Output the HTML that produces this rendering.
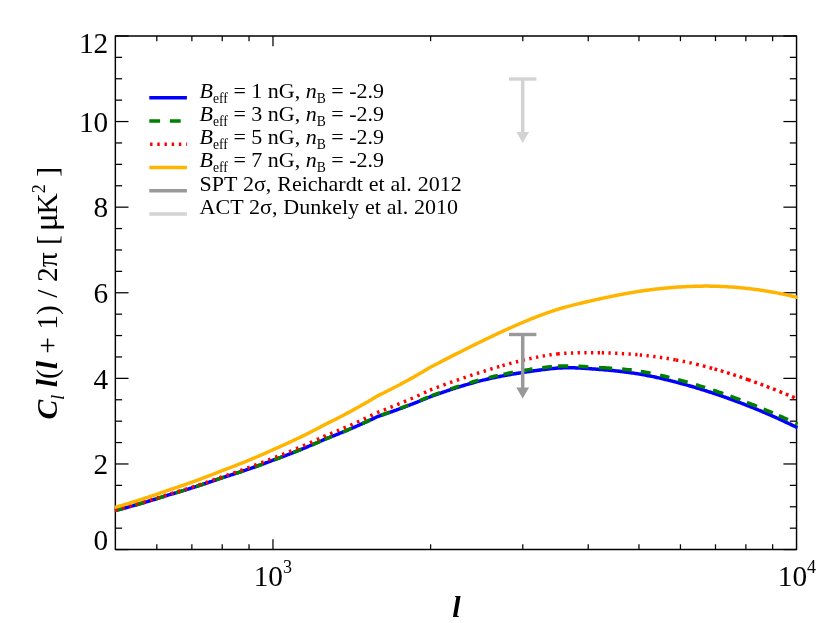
<!DOCTYPE html>
<html><head><meta charset="utf-8"><title>plot</title>
<style>html,body{margin:0;padding:0;background:#fff;}svg{display:block;will-change:transform;}</style>
</head><body>
<svg width="830" height="623" viewBox="0 0 830 623" font-family="'Liberation Serif', serif" fill="#000">
<rect x="0" y="0" width="830" height="623" fill="#fff"/>
<rect x="115.35" y="35.95" width="681.2" height="513.6" fill="none" stroke="#000" stroke-width="1.45" stroke-linejoin="round"/>
<g stroke="#000" stroke-width="1.25">
<line x1="115.35" y1="549.57" x2="128.5" y2="549.57"/>
<line x1="796.6" y1="549.57" x2="783.4" y2="549.57"/>
<line x1="115.35" y1="528.17" x2="122.1" y2="528.17"/>
<line x1="796.6" y1="528.17" x2="789.8" y2="528.17"/>
<line x1="115.35" y1="506.77" x2="122.1" y2="506.77"/>
<line x1="796.6" y1="506.77" x2="789.8" y2="506.77"/>
<line x1="115.35" y1="485.37" x2="122.1" y2="485.37"/>
<line x1="796.6" y1="485.37" x2="789.8" y2="485.37"/>
<line x1="115.35" y1="463.97" x2="128.5" y2="463.97"/>
<line x1="796.6" y1="463.97" x2="783.4" y2="463.97"/>
<line x1="115.35" y1="442.57" x2="122.1" y2="442.57"/>
<line x1="796.6" y1="442.57" x2="789.8" y2="442.57"/>
<line x1="115.35" y1="421.17" x2="122.1" y2="421.17"/>
<line x1="796.6" y1="421.17" x2="789.8" y2="421.17"/>
<line x1="115.35" y1="399.76" x2="122.1" y2="399.76"/>
<line x1="796.6" y1="399.76" x2="789.8" y2="399.76"/>
<line x1="115.35" y1="378.36" x2="128.5" y2="378.36"/>
<line x1="796.6" y1="378.36" x2="783.4" y2="378.36"/>
<line x1="115.35" y1="356.96" x2="122.1" y2="356.96"/>
<line x1="796.6" y1="356.96" x2="789.8" y2="356.96"/>
<line x1="115.35" y1="335.56" x2="122.1" y2="335.56"/>
<line x1="796.6" y1="335.56" x2="789.8" y2="335.56"/>
<line x1="115.35" y1="314.16" x2="122.1" y2="314.16"/>
<line x1="796.6" y1="314.16" x2="789.8" y2="314.16"/>
<line x1="115.35" y1="292.76" x2="128.5" y2="292.76"/>
<line x1="796.6" y1="292.76" x2="783.4" y2="292.76"/>
<line x1="115.35" y1="271.36" x2="122.1" y2="271.36"/>
<line x1="796.6" y1="271.36" x2="789.8" y2="271.36"/>
<line x1="115.35" y1="249.96" x2="122.1" y2="249.96"/>
<line x1="796.6" y1="249.96" x2="789.8" y2="249.96"/>
<line x1="115.35" y1="228.56" x2="122.1" y2="228.56"/>
<line x1="796.6" y1="228.56" x2="789.8" y2="228.56"/>
<line x1="115.35" y1="207.16" x2="128.5" y2="207.16"/>
<line x1="796.6" y1="207.16" x2="783.4" y2="207.16"/>
<line x1="115.35" y1="185.76" x2="122.1" y2="185.76"/>
<line x1="796.6" y1="185.76" x2="789.8" y2="185.76"/>
<line x1="115.35" y1="164.36" x2="122.1" y2="164.36"/>
<line x1="796.6" y1="164.36" x2="789.8" y2="164.36"/>
<line x1="115.35" y1="142.95" x2="122.1" y2="142.95"/>
<line x1="796.6" y1="142.95" x2="789.8" y2="142.95"/>
<line x1="115.35" y1="121.55" x2="128.5" y2="121.55"/>
<line x1="796.6" y1="121.55" x2="783.4" y2="121.55"/>
<line x1="115.35" y1="100.15" x2="122.1" y2="100.15"/>
<line x1="796.6" y1="100.15" x2="789.8" y2="100.15"/>
<line x1="115.35" y1="78.75" x2="122.1" y2="78.75"/>
<line x1="796.6" y1="78.75" x2="789.8" y2="78.75"/>
<line x1="115.35" y1="57.35" x2="122.1" y2="57.35"/>
<line x1="796.6" y1="57.35" x2="789.8" y2="57.35"/>
<line x1="115.35" y1="35.95" x2="128.5" y2="35.95"/>
<line x1="796.6" y1="35.95" x2="783.4" y2="35.95"/>
<line x1="156.81" y1="549.57" x2="156.81" y2="544.3"/>
<line x1="156.81" y1="35.95" x2="156.81" y2="41.2"/>
<line x1="191.87" y1="549.57" x2="191.87" y2="544.3"/>
<line x1="191.87" y1="35.95" x2="191.87" y2="41.2"/>
<line x1="222.23" y1="549.57" x2="222.23" y2="544.3"/>
<line x1="222.23" y1="35.95" x2="222.23" y2="41.2"/>
<line x1="249.02" y1="549.57" x2="249.02" y2="544.3"/>
<line x1="249.02" y1="35.95" x2="249.02" y2="41.2"/>
<line x1="272.98" y1="549.57" x2="272.98" y2="539.3"/>
<line x1="272.98" y1="35.95" x2="272.98" y2="46.2"/>
<line x1="430.60" y1="549.57" x2="430.60" y2="544.3"/>
<line x1="430.60" y1="35.95" x2="430.60" y2="41.2"/>
<line x1="522.81" y1="549.57" x2="522.81" y2="544.3"/>
<line x1="522.81" y1="35.95" x2="522.81" y2="41.2"/>
<line x1="588.23" y1="549.57" x2="588.23" y2="544.3"/>
<line x1="588.23" y1="35.95" x2="588.23" y2="41.2"/>
<line x1="638.97" y1="549.57" x2="638.97" y2="544.3"/>
<line x1="638.97" y1="35.95" x2="638.97" y2="41.2"/>
<line x1="680.43" y1="549.57" x2="680.43" y2="544.3"/>
<line x1="680.43" y1="35.95" x2="680.43" y2="41.2"/>
<line x1="715.49" y1="549.57" x2="715.49" y2="544.3"/>
<line x1="715.49" y1="35.95" x2="715.49" y2="41.2"/>
<line x1="745.86" y1="549.57" x2="745.86" y2="544.3"/>
<line x1="745.86" y1="35.95" x2="745.86" y2="41.2"/>
<line x1="772.64" y1="549.57" x2="772.64" y2="544.3"/>
<line x1="772.64" y1="35.95" x2="772.64" y2="41.2"/>
</g>
<g fill="none" stroke-width="3.5" stroke-linejoin="round">
<path d="M114.9,510.5 L115.3,510.5 L115.9,510.3 L116.9,510.1 L117.9,509.8 L118.9,509.6 L119.8,509.3 L120.8,509.1 L121.8,508.8 L122.8,508.5 L123.7,508.3 L124.7,508.0 L125.7,507.7 L126.7,507.5 L127.6,507.2 L128.6,506.9 L129.6,506.7 L130.6,506.4 L131.5,506.1 L132.5,505.9 L133.5,505.6 L134.5,505.3 L135.5,505.0 L136.4,504.8 L137.4,504.5 L138.4,504.2 L139.4,503.9 L140.3,503.6 L141.3,503.3 L142.3,503.1 L143.3,502.8 L144.2,502.5 L145.2,502.2 L146.2,501.9 L147.2,501.6 L148.1,501.3 L149.1,501.0 L150.1,500.7 L151.1,500.4 L152.1,500.1 L153.0,499.8 L154.0,499.5 L155.0,499.2 L156.0,498.9 L156.9,498.6 L157.9,498.3 L158.9,498.0 L159.9,497.7 L160.8,497.4 L161.8,497.1 L162.8,496.8 L163.8,496.5 L164.7,496.1 L165.7,495.8 L166.7,495.5 L167.7,495.2 L168.3,495.0 L168.7,494.9 L169.6,494.6 L170.6,494.3 L171.6,494.0 L172.6,493.8 L173.5,493.5 L174.5,493.2 L175.5,492.9 L176.5,492.6 L177.4,492.3 L178.4,492.0 L179.4,491.7 L180.4,491.4 L181.3,491.2 L182.3,490.9 L183.3,490.6 L184.3,490.3 L185.3,490.0 L186.2,489.7 L187.2,489.4 L188.2,489.1 L189.2,488.8 L190.1,488.4 L191.1,488.1 L192.1,487.8 L193.1,487.5 L194.0,487.2 L195.0,486.9 L196.0,486.6 L197.0,486.3 L197.9,485.9 L198.9,485.6 L199.9,485.3 L200.9,485.0 L201.9,484.7 L202.8,484.3 L203.8,484.0 L204.8,483.7 L205.8,483.4 L206.7,483.0 L207.7,482.7 L208.7,482.4 L209.7,482.0 L210.6,481.7 L211.6,481.4 L212.6,481.0 L213.6,480.7 L214.5,480.3 L215.5,480.0 L216.5,479.7 L217.5,479.3 L218.5,479.0 L219.4,478.6 L220.4,478.3 L220.6,478.2 L221.4,478.0 L222.4,477.7 L223.3,477.4 L224.3,477.1 L225.3,476.8 L226.3,476.5 L227.2,476.1 L228.2,475.8 L229.2,475.5 L230.2,475.2 L231.1,474.9 L232.1,474.6 L233.1,474.3 L234.1,474.0 L235.1,473.6 L236.0,473.3 L237.0,473.0 L238.0,472.7 L239.0,472.4 L239.9,472.0 L240.9,471.7 L241.9,471.4 L242.9,471.1 L243.8,470.7 L244.8,470.4 L245.8,470.1 L246.8,469.7 L247.7,469.4 L248.7,469.1 L249.7,468.7 L250.7,468.4 L251.7,468.0 L252.6,467.7 L253.6,467.3 L254.6,467.0 L255.6,466.7 L256.5,466.3 L257.5,466.0 L258.5,465.6 L259.5,465.2 L260.4,464.9 L261.4,464.5 L262.4,464.2 L263.4,463.8 L264.3,463.5 L265.3,463.1 L266.3,462.7 L267.3,462.4 L268.3,462.0 L269.2,461.6 L270.2,461.3 L271.2,460.9 L272.2,460.5 L273.0,460.2 L273.1,460.1 L274.1,459.8 L275.1,459.4 L276.1,459.1 L277.0,458.7 L278.0,458.4 L279.0,458.0 L280.0,457.6 L280.9,457.3 L281.9,456.9 L282.9,456.5 L283.9,456.2 L284.9,455.8 L285.8,455.4 L286.8,455.1 L287.8,454.7 L288.8,454.3 L289.7,453.9 L290.7,453.6 L291.7,453.2 L292.7,452.8 L293.6,452.4 L294.6,452.0 L295.6,451.6 L296.6,451.2 L297.5,450.9 L298.5,450.5 L299.5,450.1 L300.5,449.7 L301.5,449.3 L302.4,448.9 L303.4,448.5 L304.4,448.1 L305.4,447.7 L306.3,447.3 L307.3,446.9 L308.3,446.4 L309.3,446.0 L310.2,445.6 L311.2,445.2 L312.2,444.8 L313.2,444.4 L314.1,443.9 L315.1,443.5 L316.1,443.1 L317.1,442.7 L318.1,442.2 L319.0,441.8 L320.0,441.4 L321.0,441.0 L322.0,440.5 L322.9,440.1 L323.9,439.6 L324.9,439.2 L325.3,439.0 L325.9,438.8 L326.8,438.4 L327.8,438.0 L328.8,437.7 L329.8,437.3 L330.7,436.9 L331.7,436.5 L332.7,436.1 L333.7,435.8 L334.7,435.4 L335.6,435.0 L336.6,434.6 L337.6,434.2 L338.6,433.8 L339.5,433.4 L340.5,433.0 L341.5,432.6 L342.5,432.2 L343.4,431.8 L344.4,431.4 L345.4,431.0 L346.4,430.6 L347.3,430.2 L348.3,429.8 L349.3,429.3 L350.3,428.9 L351.3,428.5 L352.2,428.1 L353.2,427.7 L354.2,427.2 L355.2,426.8 L356.1,426.4 L357.1,426.0 L358.1,425.5 L359.1,425.1 L360.0,424.7 L361.0,424.2 L362.0,423.8 L363.0,423.4 L363.9,422.9 L364.9,422.5 L365.9,422.0 L366.9,421.6 L367.9,421.1 L368.8,420.7 L369.8,420.2 L370.8,419.8 L371.8,419.3 L372.7,418.9 L373.7,418.4 L374.7,417.9 L375.7,417.5 L376.6,417.0 L377.6,416.5 L377.7,416.5 L378.6,416.2 L379.6,415.9 L380.5,415.5 L381.5,415.2 L382.5,414.9 L383.5,414.5 L384.5,414.2 L385.4,413.9 L386.4,413.5 L387.4,413.2 L388.4,412.8 L389.3,412.5 L390.3,412.2 L391.3,411.8 L392.3,411.5 L393.2,411.1 L394.2,410.8 L395.2,410.4 L396.2,410.1 L397.1,409.7 L398.1,409.4 L399.1,409.0 L400.1,408.6 L401.1,408.3 L402.0,407.9 L403.0,407.5 L404.0,407.2 L405.0,406.8 L405.9,406.4 L406.9,406.1 L407.9,405.7 L408.9,405.3 L409.8,404.9 L410.8,404.6 L411.8,404.2 L412.8,403.8 L413.7,403.4 L414.7,403.0 L415.7,402.7 L416.7,402.3 L417.7,401.9 L418.6,401.5 L419.6,401.1 L420.6,400.7 L421.6,400.3 L422.5,399.9 L423.5,399.5 L424.5,399.1 L425.5,398.7 L426.4,398.3 L427.4,397.9 L428.4,397.5 L429.4,397.1 L430.1,396.8 L430.3,396.7 L431.3,396.3 L432.3,396.0 L433.3,395.6 L434.3,395.3 L435.2,394.9 L436.2,394.6 L437.2,394.2 L438.2,393.9 L439.1,393.5 L440.1,393.2 L441.1,392.9 L442.1,392.5 L443.0,392.2 L444.0,391.9 L445.0,391.5 L446.0,391.2 L446.9,390.9 L447.9,390.5 L448.9,390.2 L449.9,389.9 L450.9,389.5 L451.8,389.2 L452.8,388.9 L453.8,388.6 L454.8,388.3 L455.7,387.9 L456.7,387.6 L457.7,387.3 L458.7,387.0 L459.6,386.7 L460.6,386.4 L461.6,386.1 L462.6,385.8 L463.5,385.5 L464.5,385.2 L465.5,384.9 L466.5,384.6 L467.5,384.4 L468.4,384.1 L469.4,383.8 L470.4,383.5 L471.4,383.2 L472.3,383.0 L473.3,382.7 L474.3,382.4 L475.3,382.2 L476.2,381.9 L477.2,381.6 L478.2,381.4 L479.2,381.1 L480.1,380.9 L481.1,380.6 L482.1,380.4 L482.4,380.3 L483.1,380.1 L484.1,379.9 L485.0,379.7 L486.0,379.4 L487.0,379.2 L488.0,379.0 L488.9,378.8 L489.9,378.5 L490.9,378.3 L491.9,378.1 L492.8,377.9 L493.8,377.7 L494.8,377.5 L495.8,377.3 L496.7,377.1 L497.7,376.9 L498.7,376.7 L499.7,376.5 L500.7,376.3 L501.6,376.1 L502.6,375.9 L503.6,375.7 L504.6,375.5 L505.5,375.4 L506.5,375.2 L507.5,375.0 L508.5,374.8 L509.4,374.7 L510.4,374.5 L511.4,374.3 L512.4,374.1 L513.3,374.0 L514.3,373.8 L515.3,373.7 L516.3,373.5 L517.3,373.3 L518.2,373.2 L519.2,373.0 L520.2,372.9 L521.2,372.7 L522.1,372.6 L523.1,372.4 L524.1,372.3 L525.1,372.1 L526.0,372.0 L527.0,371.8 L528.0,371.7 L529.0,371.5 L529.9,371.4 L530.9,371.3 L531.9,371.1 L532.9,371.0 L533.9,370.8 L534.8,370.7 L534.8,370.7 L535.8,370.6 L536.8,370.4 L537.8,370.3 L538.7,370.2 L539.7,370.0 L540.7,369.9 L541.7,369.8 L542.6,369.6 L543.6,369.5 L544.6,369.4 L545.6,369.3 L546.5,369.2 L547.5,369.0 L548.5,368.9 L549.5,368.8 L550.5,368.7 L551.4,368.6 L552.4,368.5 L553.4,368.4 L554.4,368.4 L555.3,368.3 L556.3,368.2 L557.3,368.1 L558.3,368.1 L559.2,368.0 L560.2,367.9 L561.2,367.9 L562.2,367.9 L563.1,367.8 L564.1,367.8 L565.1,367.8 L566.1,367.7 L567.1,367.7 L568.0,367.7 L569.0,367.7 L570.0,367.7 L571.0,367.7 L571.9,367.7 L572.9,367.8 L573.9,367.8 L574.9,367.8 L575.8,367.9 L576.8,367.9 L577.8,367.9 L578.8,368.0 L579.7,368.0 L580.7,368.1 L581.7,368.2 L582.7,368.2 L583.7,368.3 L584.6,368.3 L585.6,368.4 L586.6,368.5 L587.2,368.5 L587.6,368.5 L588.5,368.6 L589.5,368.7 L590.5,368.7 L591.5,368.8 L592.4,368.9 L593.4,368.9 L594.4,369.0 L595.4,369.1 L596.3,369.2 L597.3,369.2 L598.3,369.3 L599.3,369.4 L600.3,369.5 L601.2,369.5 L602.2,369.6 L603.2,369.7 L604.2,369.8 L605.1,369.9 L606.1,370.0 L607.1,370.0 L608.1,370.1 L609.0,370.2 L610.0,370.3 L611.0,370.4 L612.0,370.5 L612.9,370.6 L613.9,370.7 L614.9,370.8 L615.9,370.9 L616.9,371.0 L617.8,371.1 L618.8,371.2 L619.8,371.3 L620.8,371.5 L621.7,371.6 L622.7,371.7 L623.7,371.8 L624.7,371.9 L625.6,372.1 L626.6,372.2 L627.6,372.3 L628.6,372.4 L629.5,372.6 L630.5,372.7 L631.5,372.9 L632.5,373.0 L633.5,373.1 L634.4,373.3 L635.4,373.4 L636.4,373.6 L637.4,373.7 L638.3,373.9 L639.3,374.1 L639.5,374.1 L640.3,374.2 L641.3,374.4 L642.2,374.6 L643.2,374.7 L644.2,374.9 L645.2,375.1 L646.1,375.3 L647.1,375.5 L648.1,375.7 L649.1,375.8 L650.1,376.0 L651.0,376.2 L652.0,376.4 L653.0,376.6 L654.0,376.8 L654.9,377.0 L655.9,377.2 L656.9,377.5 L657.9,377.7 L658.8,377.9 L659.8,378.1 L660.8,378.3 L661.8,378.6 L662.7,378.8 L663.7,379.0 L664.7,379.2 L665.7,379.5 L666.7,379.7 L667.6,379.9 L668.6,380.2 L669.6,380.4 L670.6,380.7 L671.5,380.9 L672.5,381.2 L673.5,381.4 L674.5,381.7 L675.4,381.9 L676.4,382.2 L677.4,382.4 L678.4,382.7 L679.3,383.0 L680.3,383.2 L681.3,383.5 L682.3,383.8 L683.3,384.0 L684.2,384.3 L685.2,384.6 L686.2,384.9 L687.2,385.1 L688.1,385.4 L689.1,385.7 L690.1,386.0 L691.1,386.3 L691.9,386.5 L692.0,386.5 L693.0,386.8 L694.0,387.1 L695.0,387.4 L695.9,387.7 L696.9,388.0 L697.9,388.3 L698.9,388.6 L699.9,388.9 L700.8,389.2 L701.8,389.5 L702.8,389.8 L703.8,390.1 L704.7,390.4 L705.7,390.7 L706.7,391.0 L707.7,391.4 L708.6,391.7 L709.6,392.0 L710.6,392.3 L711.6,392.6 L712.5,392.9 L713.5,393.3 L714.5,393.6 L715.5,393.9 L716.5,394.2 L717.4,394.6 L718.4,394.9 L719.4,395.2 L720.4,395.6 L721.3,395.9 L722.3,396.2 L723.3,396.6 L724.3,396.9 L725.2,397.3 L726.2,397.6 L727.2,398.0 L728.2,398.3 L729.1,398.7 L730.1,399.0 L731.1,399.4 L732.1,399.7 L733.1,400.1 L734.0,400.4 L735.0,400.8 L736.0,401.2 L737.0,401.5 L737.9,401.9 L738.9,402.3 L739.9,402.6 L740.9,403.0 L741.8,403.4 L742.8,403.8 L743.8,404.1 L744.2,404.3 L744.8,404.5 L745.7,404.9 L746.7,405.3 L747.7,405.7 L748.7,406.0 L749.7,406.4 L750.6,406.8 L751.6,407.2 L752.6,407.6 L753.6,408.0 L754.5,408.4 L755.5,408.8 L756.5,409.2 L757.5,409.6 L758.4,410.0 L759.4,410.4 L760.4,410.8 L761.4,411.2 L762.3,411.6 L763.3,412.1 L764.3,412.5 L765.3,412.9 L766.3,413.3 L767.2,413.7 L768.2,414.2 L769.2,414.6 L770.2,415.0 L771.1,415.4 L772.1,415.9 L773.1,416.3 L774.1,416.7 L775.0,417.2 L776.0,417.6 L777.0,418.0 L778.0,418.5 L778.9,418.9 L779.9,419.4 L780.9,419.8 L781.9,420.3 L782.9,420.7 L783.8,421.2 L784.8,421.6 L785.8,422.1 L786.8,422.6 L787.7,423.0 L788.7,423.5 L789.7,423.9 L790.7,424.4 L791.6,424.9 L792.6,425.4 L793.6,425.8 L794.6,426.3 L795.5,426.8 L796.5,427.3 L796.6,427.3 L797.5,427.7" stroke="#0000ff"/>
<path d="M114.95,510.50 L116.92,510.09 L118.90,509.57 L120.87,509.05 L122.84,508.52 M135.18,505.11 L137.02,504.58 L138.87,504.05 L140.71,503.52 L142.56,502.98 L144.40,502.44 M155.72,499.00 L157.43,498.47 L159.14,497.93 L160.84,497.39 L162.55,496.85 L164.26,496.30 M175.59,492.87 L177.43,492.33 L179.27,491.78 L181.11,491.23 L182.95,490.67 L184.79,490.11 M195.94,486.60 L197.64,486.05 L199.34,485.50 L201.04,484.94 L202.74,484.37 L204.44,483.81 M215.78,479.92 L217.46,479.33 L219.14,478.73 L220.82,478.14 L222.50,477.62 L224.18,477.10 M235.44,473.52 L237.44,472.86 L239.44,472.20 L241.44,471.53 L243.44,470.86 M254.78,466.93 L256.45,466.34 L258.11,465.74 L259.77,465.14 L261.43,464.53 L263.09,463.92 M274.00,459.83 L275.67,459.22 L277.35,458.61 L279.03,457.99 L280.71,457.37 L282.38,456.74 M293.34,452.53 L295.00,451.87 L296.66,451.21 L298.32,450.55 L299.98,449.88 L301.64,449.20 M312.09,444.84 L313.81,444.10 L315.53,443.35 L317.25,442.60 L318.97,441.85 L320.69,441.09 M324.72,439.28 L326.58,438.52 L328.44,437.81 L330.30,437.08 L332.15,436.35 M342.87,432.00 L344.64,431.26 L346.40,430.52 L348.17,429.77 L349.94,429.01 L351.70,428.25 M362.12,423.62 L363.77,422.87 L365.41,422.12 L367.06,421.35 L368.71,420.59 L370.35,419.81 M381.27,415.08 L382.98,414.49 L384.68,413.90 L386.39,413.30 L388.10,412.69 L389.81,412.08 M400.21,408.27 L401.84,407.66 L403.47,407.04 L405.10,406.42 L406.73,405.79 L408.36,405.16 M419.96,400.53 L421.61,399.86 L423.26,399.17 L424.91,398.48 L426.56,397.79 L428.21,397.09 M431.31,395.84 L433.01,395.21 L434.71,394.59 L436.41,393.97 L438.11,393.35 L439.81,392.74 M450.37,389.03 L452.15,388.42 L453.93,387.82 L455.70,387.23 L457.48,386.64 L459.26,386.07 M469.60,382.85 L471.39,382.32 L473.18,381.80 L474.97,381.28 L476.75,380.78 L478.54,380.29 M488.82,377.63 L490.64,377.19 L492.46,376.75 L494.28,376.32 L496.10,375.90 L497.92,375.48 M503.57,374.24 L505.45,373.84 L507.33,373.45 L509.21,373.07 L511.09,372.70 L512.97,372.33 M522.89,370.54 L524.80,370.23 L526.71,369.92 L528.63,369.61 L530.54,369.32 L532.45,369.04 M542.22,367.71 L544.16,367.47 L546.11,367.24 L548.06,367.03 L550.00,366.83 L551.95,366.65 M557.90,366.21 L559.63,366.12 L561.37,366.04 L563.10,365.99 L564.83,365.95 L566.56,365.93 L568.29,365.93 M578.49,366.25 L580.45,366.36 L582.41,366.49 L584.37,366.61 L586.33,366.74 L588.28,366.88 M599.00,367.52 L600.88,367.63 L602.77,367.73 L604.65,367.84 L606.53,367.95 L608.42,368.06 L610.30,368.18 L612.18,368.30 M622.16,369.07 L624.08,369.25 L626.01,369.44 L627.93,369.64 L629.86,369.86 L631.78,370.09 M640.79,371.41 L642.74,371.75 L644.70,372.09 L646.65,372.45 L648.61,372.82 L650.56,373.20 M660.08,375.21 L661.94,375.63 L663.80,376.05 L665.66,376.49 L667.52,376.94 L669.38,377.39 M678.05,379.62 L679.96,380.14 L681.88,380.66 L683.79,381.19 L685.70,381.72 L687.62,382.27 M695.90,384.70 L697.74,385.25 L699.57,385.81 L701.40,386.38 L703.24,386.95 L705.07,387.53 M713.05,390.11 L714.74,390.67 L716.44,391.24 L718.13,391.81 L719.83,392.39 L721.53,392.97 L723.22,393.56 M730.39,396.11 L732.39,396.84 L734.39,397.57 L736.38,398.31 L738.38,399.06 L740.38,399.82 M746.94,402.35 L748.60,403.01 L750.27,403.66 L751.94,404.33 L753.61,404.99 L755.27,405.66 L756.94,406.34 M763.57,409.05 L765.42,409.82 L767.26,410.60 L769.11,411.38 L770.96,412.16 L772.81,412.95 M778.80,415.56 L780.64,416.38 L782.47,417.19 L784.30,418.02 L786.14,418.84 L787.97,419.68 M795.45,423.16 L796.47,423.64 L797.50,424.13" stroke="#008000"/>
<path d="M114.95,510.00 L116.32,509.75 L117.70,509.39 M122.35,508.15 L123.50,507.84 L124.65,507.53 M129.30,506.26 L130.45,505.94 L131.60,505.62 M136.25,504.30 L137.40,503.97 L138.55,503.64 M143.20,502.29 L144.35,501.95 L145.50,501.61 M150.15,500.21 L151.30,499.86 L152.45,499.51 M157.10,498.07 L158.25,497.71 L159.40,497.35 M164.05,495.87 L165.20,495.50 L166.35,495.12 M171.00,493.69 L172.15,493.35 L173.30,493.01 M177.95,491.61 L179.10,491.25 L180.25,490.90 M184.90,489.45 L186.05,489.09 L187.20,488.73 M191.85,487.24 L193.00,486.86 L194.15,486.49 M198.80,484.95 L199.95,484.56 L201.10,484.18 M205.75,482.59 L206.90,482.19 L208.05,481.79 M212.70,480.16 L213.85,479.75 L215.00,479.34 M219.65,477.65 L220.80,477.24 L221.95,476.86 M226.60,475.32 L227.75,474.94 L228.90,474.55 M233.55,472.96 L234.70,472.56 L235.85,472.16 M240.50,470.52 L241.65,470.11 L242.80,469.70 M247.45,468.01 L248.60,467.59 L249.75,467.16 M254.40,465.42 L255.55,464.99 L256.70,464.55 M261.35,462.75 L262.50,462.30 L263.65,461.85 M268.30,460.00 L269.45,459.54 L270.60,459.07 M275.25,457.23 L276.40,456.79 L277.55,456.34 M282.20,454.52 L283.35,454.06 L284.50,453.60 M289.15,451.72 L290.30,451.25 L291.45,450.78 M296.10,448.84 L297.25,448.35 L298.40,447.87 M303.05,445.87 L304.20,445.37 L305.35,444.86 M310.00,442.80 L311.15,442.29 L312.30,441.77 M316.95,439.64 L318.10,439.11 L319.25,438.58 M323.50,436.58 L324.65,436.03 L325.80,435.52 M330.20,433.76 L331.35,433.29 L332.50,432.82 M336.90,431.01 L338.05,430.53 L339.20,430.04 M343.60,428.18 L344.75,427.68 L345.90,427.18 M350.30,425.26 L351.45,424.75 L352.60,424.24 M357.00,422.26 L358.15,421.73 L359.30,421.21 M363.70,419.16 L364.85,418.62 L366.00,418.08 M370.40,415.98 L371.55,415.42 L372.70,414.86 M377.10,412.70 L378.25,412.19 L379.40,411.75 M383.80,410.06 L384.95,409.61 L386.10,409.16 M390.50,407.41 L391.65,406.95 L392.80,406.49 M397.20,404.69 L398.35,404.21 L399.50,403.74 M403.90,401.88 L405.05,401.39 L406.20,400.90 M410.60,398.99 L411.75,398.49 L412.90,397.98 M417.30,396.02 L418.45,395.50 L419.60,394.98 M424.00,392.95 L425.15,392.42 L426.30,391.88 M430.00,390.13 L431.15,389.68 L432.30,389.24 M436.70,387.56 L437.85,387.13 L439.00,386.70 M443.40,385.07 L444.55,384.64 L445.70,384.22 M450.10,382.63 L451.25,382.22 L452.40,381.81 M456.80,380.25 L457.95,379.85 L459.10,379.45 M463.50,377.94 L464.65,377.54 L465.80,377.15 M470.20,375.68 L471.35,375.29 L472.50,374.91 M476.90,373.47 L478.05,373.10 L479.20,372.73 M483.60,371.33 L484.75,370.97 L485.90,370.60 M490.30,369.24 L491.45,368.89 L492.60,368.54 M497.00,367.22 L498.15,366.88 L499.30,366.54 M502.50,365.62 L503.65,365.29 L504.80,364.96 M509.20,363.75 L510.35,363.43 L511.50,363.13 M515.90,361.97 L517.05,361.68 L518.20,361.39 M522.60,360.31 L523.75,360.04 L524.90,359.77 M529.30,358.77 L530.45,358.52 L531.60,358.27 M536.00,357.36 L537.15,357.13 L538.30,356.90 M542.70,356.09 L543.85,355.89 L545.00,355.70 M549.40,355.00 L550.55,354.83 L551.70,354.67 M556.10,354.12 L557.25,353.99 L558.40,353.87 M557.50,353.96 L558.65,353.84 L559.80,353.73 M564.20,353.36 L565.35,353.29 L566.50,353.21 M570.90,352.99 L572.05,352.95 L573.20,352.91 M577.60,352.79 L578.75,352.77 L579.90,352.75 M584.30,352.71 L585.45,352.70 L586.60,352.70 M591.00,352.71 L592.15,352.71 L593.30,352.72 M597.70,352.76 L598.85,352.78 L600.00,352.80 M601.70,352.83 L602.85,352.86 L604.00,352.88 M608.40,353.00 L609.55,353.04 L610.70,353.08 M615.10,353.25 L616.25,353.30 L617.40,353.35 M621.80,353.58 L622.95,353.64 L624.10,353.71 M628.50,354.00 L629.65,354.08 L630.80,354.17 M635.20,354.52 L636.35,354.61 L637.50,354.72 M639.80,354.93 L640.95,355.04 L642.10,355.15 M646.50,355.62 L647.65,355.75 L648.80,355.88 M653.20,356.41 L654.35,356.56 L655.50,356.71 M659.90,357.32 L661.05,357.49 L662.20,357.66 M666.60,358.33 L667.75,358.52 L668.90,358.71 M673.30,359.46 L674.45,359.67 L675.60,359.88 M676.00,359.95 L677.15,360.16 L678.30,360.38 M682.70,361.24 L683.85,361.48 L685.00,361.71 M689.40,362.65 L690.55,362.90 L691.70,363.16 M696.10,364.18 L697.45,364.50 L698.80,364.83 M702.80,365.82 L704.15,366.17 L705.50,366.51 M709.50,367.58 L710.85,367.94 L712.20,368.31 M714.50,368.96 L715.85,369.34 L717.20,369.73 M720.75,370.76 L722.10,371.17 L723.45,371.57 M727.00,372.66 L728.35,373.08 L729.70,373.50 M733.25,374.63 L734.60,375.07 L735.95,375.51 M739.50,376.69 L740.85,377.14 L742.20,377.60 M745.75,378.82 L747.10,379.29 L748.45,379.77 M748.00,379.61 L749.35,380.08 L750.70,380.56 M754.25,381.84 L755.60,382.33 L756.95,382.82 M760.50,384.13 L761.85,384.64 L763.20,385.14 M766.75,386.49 L768.10,387.01 L769.45,387.53 M773.00,388.91 L774.35,389.44 L775.70,389.97 M779.50,391.48 L780.85,392.02 L782.20,392.56 M785.75,394.00 L787.10,394.56 L788.45,395.11 M792.00,396.58 L793.35,397.14 L794.70,397.70" stroke="#ff0000"/>
<path d="M114.9,507.3 L115.3,507.3 L115.9,507.1 L116.9,506.9 L117.9,506.6 L118.9,506.3 L119.8,506.0 L120.8,505.7 L121.8,505.4 L122.8,505.1 L123.7,504.8 L124.7,504.6 L125.7,504.3 L126.7,504.0 L127.6,503.7 L128.6,503.4 L129.6,503.1 L130.6,502.8 L131.5,502.5 L132.5,502.2 L133.5,501.9 L134.5,501.6 L135.5,501.3 L136.4,501.0 L137.4,500.6 L138.4,500.3 L139.4,500.0 L140.3,499.7 L141.3,499.4 L142.3,499.1 L143.3,498.8 L144.2,498.5 L145.2,498.1 L146.2,497.8 L147.2,497.5 L148.1,497.2 L149.1,496.8 L150.1,496.5 L151.1,496.2 L152.1,495.9 L153.0,495.5 L154.0,495.2 L155.0,494.9 L156.0,494.5 L156.9,494.2 L157.9,493.9 L158.9,493.5 L159.9,493.2 L160.8,492.8 L161.8,492.5 L162.8,492.2 L163.8,491.8 L164.7,491.5 L165.7,491.1 L166.7,490.8 L167.7,490.4 L168.3,490.2 L168.7,490.1 L169.6,489.8 L170.6,489.4 L171.6,489.1 L172.6,488.8 L173.5,488.5 L174.5,488.2 L175.5,487.8 L176.5,487.5 L177.4,487.2 L178.4,486.8 L179.4,486.5 L180.4,486.2 L181.3,485.8 L182.3,485.5 L183.3,485.2 L184.3,484.8 L185.3,484.5 L186.2,484.2 L187.2,483.8 L188.2,483.5 L189.2,483.1 L190.1,482.8 L191.1,482.4 L192.1,482.1 L193.1,481.7 L194.0,481.4 L195.0,481.0 L196.0,480.7 L197.0,480.3 L197.9,480.0 L198.9,479.6 L199.9,479.2 L200.9,478.9 L201.9,478.5 L202.8,478.1 L203.8,477.8 L204.8,477.4 L205.8,477.0 L206.7,476.7 L207.7,476.3 L208.7,475.9 L209.7,475.5 L210.6,475.2 L211.6,474.8 L212.6,474.4 L213.6,474.0 L214.5,473.6 L215.5,473.2 L216.5,472.9 L217.5,472.5 L218.5,472.1 L219.4,471.7 L220.4,471.3 L220.6,471.2 L221.4,470.9 L222.4,470.6 L223.3,470.2 L224.3,469.8 L225.3,469.5 L226.3,469.1 L227.2,468.7 L228.2,468.4 L229.2,468.0 L230.2,467.6 L231.1,467.3 L232.1,466.9 L233.1,466.5 L234.1,466.1 L235.1,465.8 L236.0,465.4 L237.0,465.0 L238.0,464.6 L239.0,464.2 L239.9,463.8 L240.9,463.4 L241.9,463.1 L242.9,462.7 L243.8,462.3 L244.8,461.9 L245.8,461.5 L246.8,461.1 L247.7,460.7 L248.7,460.3 L249.7,459.9 L250.7,459.5 L251.7,459.1 L252.6,458.6 L253.6,458.2 L254.6,457.8 L255.6,457.4 L256.5,457.0 L257.5,456.6 L258.5,456.2 L259.5,455.7 L260.4,455.3 L261.4,454.9 L262.4,454.5 L263.4,454.0 L264.3,453.6 L265.3,453.2 L266.3,452.7 L267.3,452.3 L268.3,451.8 L269.2,451.4 L270.2,451.0 L271.2,450.5 L272.2,450.1 L273.0,449.7 L273.1,449.6 L274.1,449.2 L275.1,448.8 L276.1,448.4 L277.0,447.9 L278.0,447.5 L279.0,447.1 L280.0,446.6 L280.9,446.2 L281.9,445.8 L282.9,445.3 L283.9,444.9 L284.9,444.4 L285.8,444.0 L286.8,443.5 L287.8,443.1 L288.8,442.6 L289.7,442.2 L290.7,441.7 L291.7,441.3 L292.7,440.8 L293.6,440.4 L294.6,439.9 L295.6,439.4 L296.6,439.0 L297.5,438.5 L298.5,438.0 L299.5,437.6 L300.5,437.1 L301.5,436.6 L302.4,436.1 L303.4,435.7 L304.4,435.2 L305.4,434.7 L306.3,434.2 L307.3,433.7 L308.3,433.2 L309.3,432.7 L310.2,432.2 L311.2,431.7 L312.2,431.2 L313.2,430.7 L314.1,430.2 L315.1,429.7 L316.1,429.2 L317.1,428.7 L318.1,428.2 L319.0,427.7 L320.0,427.2 L321.0,426.6 L322.0,426.1 L322.9,425.6 L323.9,425.1 L324.9,424.5 L325.3,424.3 L325.9,424.0 L326.8,423.6 L327.8,423.1 L328.8,422.6 L329.8,422.1 L330.7,421.6 L331.7,421.2 L332.7,420.7 L333.7,420.2 L334.7,419.7 L335.6,419.2 L336.6,418.7 L337.6,418.2 L338.6,417.7 L339.5,417.2 L340.5,416.7 L341.5,416.2 L342.5,415.7 L343.4,415.2 L344.4,414.7 L345.4,414.2 L346.4,413.6 L347.3,413.1 L348.3,412.6 L349.3,412.1 L350.3,411.5 L351.3,411.0 L352.2,410.5 L353.2,409.9 L354.2,409.4 L355.2,408.9 L356.1,408.3 L357.1,407.8 L358.1,407.2 L359.1,406.7 L360.0,406.2 L361.0,405.6 L362.0,405.0 L363.0,404.5 L363.9,403.9 L364.9,403.4 L365.9,402.8 L366.9,402.2 L367.9,401.7 L368.8,401.1 L369.8,400.5 L370.8,400.0 L371.8,399.4 L372.7,398.8 L373.7,398.2 L374.7,397.6 L375.7,397.0 L376.6,396.4 L377.6,395.8 L377.7,395.8 L378.6,395.4 L379.6,394.9 L380.5,394.4 L381.5,393.9 L382.5,393.5 L383.5,393.0 L384.5,392.5 L385.4,392.0 L386.4,391.5 L387.4,391.0 L388.4,390.5 L389.3,390.0 L390.3,389.5 L391.3,389.0 L392.3,388.5 L393.2,388.0 L394.2,387.5 L395.2,387.0 L396.2,386.5 L397.1,386.0 L398.1,385.5 L399.1,385.0 L400.1,384.5 L401.1,383.9 L402.0,383.4 L403.0,382.9 L404.0,382.4 L405.0,381.8 L405.9,381.3 L406.9,380.8 L407.9,380.2 L408.9,379.7 L409.8,379.1 L410.8,378.6 L411.8,378.1 L412.8,377.5 L413.7,377.0 L414.7,376.4 L415.7,375.9 L416.7,375.3 L417.7,374.7 L418.6,374.2 L419.6,373.6 L420.6,373.0 L421.6,372.5 L422.5,371.9 L423.5,371.3 L424.5,370.7 L425.5,370.2 L426.4,369.6 L427.4,369.0 L428.4,368.4 L429.4,367.8 L430.1,367.4 L430.3,367.3 L431.3,366.7 L432.3,366.2 L433.3,365.7 L434.3,365.2 L435.2,364.7 L436.2,364.2 L437.2,363.7 L438.2,363.2 L439.1,362.7 L440.1,362.2 L441.1,361.6 L442.1,361.1 L443.0,360.6 L444.0,360.1 L445.0,359.6 L446.0,359.1 L446.9,358.6 L447.9,358.1 L448.9,357.6 L449.9,357.1 L450.9,356.6 L451.8,356.1 L452.8,355.6 L453.8,355.1 L454.8,354.6 L455.7,354.1 L456.7,353.6 L457.7,353.2 L458.7,352.7 L459.6,352.2 L460.6,351.7 L461.6,351.2 L462.6,350.7 L463.5,350.2 L464.5,349.7 L465.5,349.2 L466.5,348.7 L467.5,348.3 L468.4,347.8 L469.4,347.3 L470.4,346.8 L471.4,346.3 L472.3,345.8 L473.3,345.4 L474.3,344.9 L475.3,344.4 L476.2,343.9 L477.2,343.4 L478.2,343.0 L479.2,342.5 L480.1,342.0 L481.1,341.5 L482.1,341.1 L482.4,340.9 L483.1,340.6 L484.1,340.1 L485.0,339.6 L486.0,339.2 L487.0,338.7 L488.0,338.2 L488.9,337.8 L489.9,337.3 L490.9,336.8 L491.9,336.4 L492.8,335.9 L493.8,335.4 L494.8,335.0 L495.8,334.5 L496.7,334.1 L497.7,333.6 L498.7,333.1 L499.7,332.7 L500.7,332.2 L501.6,331.8 L502.6,331.3 L503.6,330.9 L504.6,330.4 L505.5,330.0 L506.5,329.5 L507.5,329.1 L508.5,328.7 L509.4,328.2 L510.4,327.8 L511.4,327.3 L512.4,326.9 L513.3,326.5 L514.3,326.0 L515.3,325.6 L516.3,325.2 L517.3,324.8 L518.2,324.3 L519.2,323.9 L520.2,323.5 L521.2,323.1 L522.1,322.7 L523.1,322.3 L524.1,321.8 L525.1,321.4 L526.0,321.0 L527.0,320.6 L528.0,320.2 L529.0,319.8 L529.9,319.4 L530.9,319.0 L531.9,318.6 L532.9,318.3 L533.9,317.9 L534.8,317.5 L534.8,317.5 L535.8,317.1 L536.8,316.7 L537.8,316.3 L538.7,316.0 L539.7,315.6 L540.7,315.2 L541.7,314.9 L542.6,314.5 L543.6,314.2 L544.6,313.8 L545.6,313.4 L546.5,313.1 L547.5,312.7 L548.5,312.4 L549.5,312.1 L550.5,311.7 L551.4,311.4 L552.4,311.1 L553.4,310.7 L554.4,310.4 L555.3,310.1 L556.3,309.8 L557.3,309.5 L558.3,309.2 L559.2,308.9 L560.2,308.6 L561.2,308.3 L562.2,308.0 L563.1,307.7 L564.1,307.5 L565.1,307.2 L566.1,306.9 L567.1,306.6 L568.0,306.4 L569.0,306.1 L570.0,305.9 L571.0,305.6 L571.9,305.3 L572.9,305.1 L573.9,304.9 L574.9,304.6 L575.8,304.4 L576.8,304.1 L577.8,303.9 L578.8,303.7 L579.7,303.4 L580.7,303.2 L581.7,303.0 L582.7,302.7 L583.7,302.5 L584.6,302.3 L585.6,302.1 L586.6,301.8 L587.2,301.7 L587.6,301.6 L588.5,301.4 L589.5,301.2 L590.5,300.9 L591.5,300.7 L592.4,300.5 L593.4,300.3 L594.4,300.1 L595.4,299.8 L596.3,299.6 L597.3,299.4 L598.3,299.2 L599.3,299.0 L600.3,298.8 L601.2,298.5 L602.2,298.3 L603.2,298.1 L604.2,297.9 L605.1,297.7 L606.1,297.5 L607.1,297.3 L608.1,297.1 L609.0,296.9 L610.0,296.7 L611.0,296.5 L612.0,296.3 L612.9,296.1 L613.9,295.9 L614.9,295.7 L615.9,295.5 L616.9,295.3 L617.8,295.1 L618.8,294.9 L619.8,294.7 L620.8,294.5 L621.7,294.4 L622.7,294.2 L623.7,294.0 L624.7,293.8 L625.6,293.6 L626.6,293.5 L627.6,293.3 L628.6,293.1 L629.5,292.9 L630.5,292.8 L631.5,292.6 L632.5,292.4 L633.5,292.3 L634.4,292.1 L635.4,291.9 L636.4,291.8 L637.4,291.6 L638.3,291.5 L639.3,291.3 L639.5,291.3 L640.3,291.2 L641.3,291.0 L642.2,290.9 L643.2,290.7 L644.2,290.6 L645.2,290.5 L646.1,290.3 L647.1,290.2 L648.1,290.1 L649.1,289.9 L650.1,289.8 L651.0,289.7 L652.0,289.6 L653.0,289.4 L654.0,289.3 L654.9,289.2 L655.9,289.1 L656.9,289.0 L657.9,288.9 L658.8,288.8 L659.8,288.7 L660.8,288.6 L661.8,288.5 L662.7,288.4 L663.7,288.3 L664.7,288.2 L665.7,288.1 L666.7,288.0 L667.6,287.9 L668.6,287.8 L669.6,287.7 L670.6,287.6 L671.5,287.6 L672.5,287.5 L673.5,287.4 L674.5,287.3 L675.4,287.3 L676.4,287.2 L677.4,287.1 L678.4,287.1 L679.3,287.0 L680.3,287.0 L681.3,286.9 L682.3,286.8 L683.3,286.8 L684.2,286.7 L685.2,286.7 L686.2,286.6 L687.2,286.6 L688.1,286.5 L689.1,286.5 L690.1,286.5 L691.1,286.4 L691.9,286.4 L692.0,286.4 L693.0,286.4 L694.0,286.3 L695.0,286.3 L695.9,286.3 L696.9,286.3 L697.9,286.2 L698.9,286.2 L699.9,286.2 L700.8,286.2 L701.8,286.2 L702.8,286.2 L703.8,286.1 L704.7,286.1 L705.7,286.1 L706.7,286.1 L707.7,286.1 L708.6,286.1 L709.6,286.2 L710.6,286.2 L711.6,286.2 L712.5,286.2 L713.5,286.2 L714.5,286.2 L715.5,286.3 L716.5,286.3 L717.4,286.3 L718.4,286.3 L719.4,286.4 L720.4,286.4 L721.3,286.4 L722.3,286.5 L723.3,286.5 L724.3,286.6 L725.2,286.6 L726.2,286.7 L727.2,286.7 L728.2,286.8 L729.1,286.9 L730.1,286.9 L731.1,287.0 L732.1,287.0 L733.1,287.1 L734.0,287.2 L735.0,287.3 L736.0,287.3 L737.0,287.4 L737.9,287.5 L738.9,287.6 L739.9,287.7 L740.9,287.8 L741.8,287.9 L742.8,288.0 L743.8,288.1 L744.2,288.1 L744.8,288.2 L745.7,288.3 L746.7,288.4 L747.7,288.5 L748.7,288.6 L749.7,288.7 L750.6,288.8 L751.6,288.9 L752.6,289.1 L753.6,289.2 L754.5,289.3 L755.5,289.4 L756.5,289.6 L757.5,289.7 L758.4,289.8 L759.4,290.0 L760.4,290.1 L761.4,290.3 L762.3,290.4 L763.3,290.6 L764.3,290.7 L765.3,290.9 L766.3,291.0 L767.2,291.2 L768.2,291.4 L769.2,291.5 L770.2,291.7 L771.1,291.9 L772.1,292.0 L773.1,292.2 L774.1,292.4 L775.0,292.6 L776.0,292.7 L777.0,292.9 L778.0,293.1 L778.9,293.3 L779.9,293.5 L780.9,293.7 L781.9,293.9 L782.9,294.1 L783.8,294.3 L784.8,294.5 L785.8,294.7 L786.8,294.9 L787.7,295.1 L788.7,295.4 L789.7,295.6 L790.7,295.8 L791.6,296.0 L792.6,296.2 L793.6,296.5 L794.6,296.7 L795.5,296.9 L796.5,297.2 L796.6,297.2 L797.5,297.4" stroke="#ffb400"/>
</g>
<line x1="509.0" y1="79.0" x2="536.4" y2="79.0" stroke="#d3d3d3" stroke-width="3.4"/><line x1="522.7" y1="79.0" x2="522.7" y2="134.0" stroke="#d3d3d3" stroke-width="3.5"/><path d="M516.3,132.0 L529.1,132.0 L522.7,143.0 Z" fill="#d3d3d3"/>
<line x1="509.0" y1="334.5" x2="536.4" y2="334.5" stroke="#999999" stroke-width="3.4"/><line x1="522.7" y1="334.5" x2="522.7" y2="389.5" stroke="#999999" stroke-width="3.5"/><path d="M516.3,387.5 L529.1,387.5 L522.7,398.5 Z" fill="#999999"/>
<text x="108.2" y="550.2" font-size="29.3" text-anchor="end">0</text>
<text x="108.2" y="474.2" font-size="29.3" text-anchor="end">2</text>
<text x="108.2" y="388.6" font-size="29.3" text-anchor="end">4</text>
<text x="108.2" y="303.0" font-size="29.3" text-anchor="end">6</text>
<text x="108.2" y="217.4" font-size="29.3" text-anchor="end">8</text>
<text x="108.2" y="131.85" font-size="29.3" text-anchor="end">10</text>
<text x="108.2" y="52.75" font-size="29.3" text-anchor="end">12</text>
<text x="253.65" y="585.6" font-size="29.3">10<tspan font-size="18" dy="-12.8">3</tspan></text>
<text x="777.75" y="585.6" font-size="29.3">10<tspan font-size="18" dy="-12.8">4</tspan></text>
<text x="456.3" y="616.6" font-size="30" font-style="italic" font-weight="bold" text-anchor="middle">l</text>
<g transform="translate(57.3,419.6) rotate(-90)"><text x="0" y="0" font-size="29.5" xml:space="preserve"><tspan font-style="italic" font-weight="bold">C</tspan><tspan font-style="italic" font-size="19" dy="6.9">l</tspan><tspan dy="-6.9" font-style="italic" font-weight="bold"> l</tspan>(<tspan font-style="italic" font-weight="bold">l</tspan> + 1) / 2π [<tspan dx="-4.4" font-size="34"> μ</tspan><tspan dx="-1.5">K</tspan><tspan font-size="18" dy="-12.5">2</tspan><tspan dy="12.5"> ]</tspan></text></g>
<line x1="149.3" y1="97.70" x2="186.9" y2="97.70" stroke="#0000ff" stroke-width="3.5"/>
<line x1="149.3" y1="120.96" x2="186.9" y2="120.96" stroke="#008000" stroke-width="3.5" stroke-dasharray="10.8 9.8"/>
<line x1="149.3" y1="144.22" x2="186.9" y2="144.22" stroke="#ff0000" stroke-width="3.5" stroke-dasharray="2.4 4.8" stroke-dashoffset="-0.8"/>
<line x1="149.3" y1="167.48" x2="186.9" y2="167.48" stroke="#ffb400" stroke-width="3.5"/>
<line x1="149.3" y1="190.74" x2="186.9" y2="190.74" stroke="#999999" stroke-width="3.5"/>
<line x1="149.3" y1="214.00" x2="186.9" y2="214.00" stroke="#d3d3d3" stroke-width="3.5"/>
<text x="199.6" y="97.70" font-size="22" xml:space="preserve"><tspan font-style="italic">B</tspan><tspan font-size="13.6" dy="4.9">eff</tspan><tspan dy="-4.9"> = 1 nG, </tspan><tspan font-style="italic">n</tspan><tspan font-size="13.6" dy="4.9">B</tspan><tspan dy="-4.9"> = -2.9</tspan></text>
<text x="199.6" y="120.96" font-size="22" xml:space="preserve"><tspan font-style="italic">B</tspan><tspan font-size="13.6" dy="4.9">eff</tspan><tspan dy="-4.9"> = 3 nG, </tspan><tspan font-style="italic">n</tspan><tspan font-size="13.6" dy="4.9">B</tspan><tspan dy="-4.9"> = -2.9</tspan></text>
<text x="199.6" y="144.22" font-size="22" xml:space="preserve"><tspan font-style="italic">B</tspan><tspan font-size="13.6" dy="4.9">eff</tspan><tspan dy="-4.9"> = 5 nG, </tspan><tspan font-style="italic">n</tspan><tspan font-size="13.6" dy="4.9">B</tspan><tspan dy="-4.9"> = -2.9</tspan></text>
<text x="199.6" y="167.48" font-size="22" xml:space="preserve"><tspan font-style="italic">B</tspan><tspan font-size="13.6" dy="4.9">eff</tspan><tspan dy="-4.9"> = 7 nG, </tspan><tspan font-style="italic">n</tspan><tspan font-size="13.6" dy="4.9">B</tspan><tspan dy="-4.9"> = -2.9</tspan></text>
<text x="199.6" y="190.74" font-size="22" word-spacing="0.4" xml:space="preserve">SPT 2σ, Reichardt et al. 2012</text>
<text x="199.6" y="214.00" font-size="22" word-spacing="0.4" xml:space="preserve">ACT 2σ, Dunkely et al. 2010</text>
</svg>
</body></html>
